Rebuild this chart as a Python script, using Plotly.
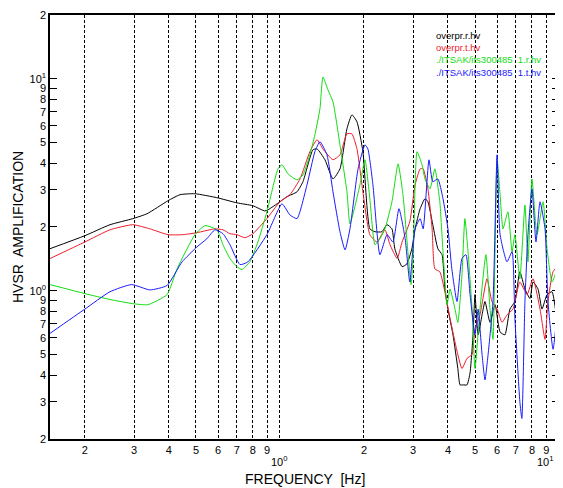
import math
import plotly.graph_objects as go

# ---- data (frequency in Hz, HVSR amplitude) ----
black_f = [0.150, 0.200, 0.246, 0.297, 0.334, 0.397, 0.438, 0.496, 0.594, 0.701, 0.800, 0.883, 0.906,
           1.0, 1.059, 1.151, 1.209, 1.313, 1.358, 1.45, 1.549, 1.641, 1.738, 1.811, 1.888, 1.983,
           2.10, 2.19, 2.32, 2.42, 2.52, 2.58, 2.74, 2.85, 2.97, 3.05, 3.18, 3.31, 3.39, 3.53, 3.68,
           3.81, 3.90, 4.0, 4.17, 4.34, 4.42, 4.53, 4.68, 4.80, 4.92, 5.0, 5.13, 5.30, 5.43, 5.66,
           5.90, 6.15, 6.40, 6.67, 6.95, 7.24, 7.55, 7.87, 8.07, 8.41, 8.69, 9.06, 9.44, 9.84, 10.0]
black_v = [1.58, 1.82, 2.05, 2.19, 2.31, 2.66, 2.84, 2.87, 2.75, 2.60, 2.52, 2.38, 2.41,
           2.63, 2.78, 2.93, 3.27, 4.63, 4.67, 4.15, 3.37, 3.76, 5.81, 6.76, 6.27, 4.53,
           1.96, 1.90, 1.90, 2.05, 1.96, 1.58, 1.30, 1.34, 1.58, 1.96, 2.44, 2.72, 2.63, 2.05, 1.58,
           1.48, 1.02, 0.82, 0.62, 0.43, 0.36, 0.36, 0.36, 0.41, 0.62, 0.96, 0.62, 0.77, 0.89, 0.71,
           0.86, 0.64, 0.62, 0.82, 0.89, 1.23, 1.02, 0.92, 1.10, 1.02, 0.82, 0.96, 0.99, 0.74, 1.02]

red_f = [0.150, 0.200, 0.246, 0.297, 0.342, 0.397, 0.449, 0.504, 0.585, 0.625, 0.662, 0.701, 0.749,
         0.800, 0.898, 1.0, 1.086, 1.18, 1.28, 1.358, 1.426, 1.549, 1.641, 1.738, 1.811, 1.888,
         1.983, 2.10, 2.228, 2.378, 2.48, 2.63, 2.74, 2.92, 3.05, 3.18, 3.26, 3.39, 3.51, 3.59,
         3.74, 3.90, 4.07, 4.31, 4.49, 4.68, 4.88, 5.0, 5.21, 5.52, 5.75, 6.0, 6.25, 6.51, 6.84,
         7.24, 7.68, 8.07, 8.55, 8.91, 9.13, 9.52, 10.0]
red_v = [1.42, 1.70, 1.94, 2.05, 1.96, 1.84, 1.84, 1.88, 1.96, 1.94, 1.86, 1.84, 1.78,
         1.86, 2.19, 2.63, 2.84, 3.37, 4.53, 5.16, 4.67, 4.15, 4.38, 5.50, 5.50, 4.67,
         2.93, 1.84, 1.70, 1.94, 1.65, 1.42, 1.70, 2.12, 3.16, 3.76, 3.76, 3.03, 1.96, 1.27,
         1.23, 0.99, 0.74, 0.52, 0.43, 0.48, 0.50, 0.66, 0.77, 1.14, 0.89, 0.82, 0.71, 0.77, 0.82,
         1.10, 0.96, 1.14, 0.82, 0.59, 0.89, 1.23, 1.33]

green_f = [0.150, 0.200, 0.246, 0.297, 0.336, 0.394, 0.428, 0.496, 0.539, 0.594, 0.625, 0.662, 0.701,
           0.731, 0.780, 0.834, 0.898, 0.984, 1.017, 1.069, 1.151, 1.209, 1.28, 1.334, 1.391, 1.426,
           1.486, 1.549, 1.641, 1.738, 1.782, 1.935, 2.017, 2.10, 2.19, 2.282, 2.378, 2.52, 2.65,
           2.76, 2.88, 2.95, 3.0, 3.10, 3.23, 3.31, 3.45, 3.59, 3.74, 3.84, 3.97, 4.07, 4.24, 4.34,
           4.49, 4.60, 4.72, 4.88, 5.0, 5.21, 5.47, 5.66, 5.80, 6.0, 6.15, 6.30, 6.56, 6.79, 6.95,
           7.24, 7.55, 7.74, 8.0, 8.34, 8.77, 9.06, 9.44, 9.84, 10.0]
green_v = [1.07, 0.97, 0.91, 0.87, 0.86, 0.96, 1.27, 1.84, 2.03, 1.94, 1.65, 1.42, 1.30,
           1.26, 1.37, 1.70, 2.36, 3.76, 3.93, 3.56, 3.34, 3.52, 4.38, 5.44, 7.22, 10.2,
           8.87, 7.79, 4.88, 2.93, 2.07, 3.16, 4.15, 2.72, 1.65, 1.76, 1.96, 2.63, 3.97,
           2.84, 1.48, 1.07, 1.42, 4.53, 3.93, 3.37, 3.03, 3.76, 2.63, 1.53, 0.86, 1.02, 0.82, 0.71,
           1.19, 2.19, 1.53, 0.82, 0.43, 0.82, 1.48, 0.82, 0.59, 4.20, 2.84, 1.96, 2.36, 1.53, 1.84,
           1.14, 2.54, 1.37, 3.37, 1.84, 2.63, 1.58, 1.10, 1.27, 1.53]

blue_f = [0.150, 0.200, 0.246, 0.294, 0.342, 0.394, 0.446, 0.504, 0.547, 0.585, 0.625, 0.662, 0.719,
          0.768, 0.898, 1.017, 1.086, 1.151, 1.25, 1.334, 1.391, 1.474, 1.549, 1.641, 1.711, 1.782,
          1.905, 2.017, 2.066, 2.154, 2.282, 2.42, 2.54, 2.67, 2.81, 2.92, 3.05, 3.18, 3.26, 3.42,
          3.53, 3.68, 3.84, 4.0, 4.13, 4.31, 4.49, 4.64, 4.80, 5.0, 5.13, 5.30, 5.43, 5.57, 5.80,
          6.0, 6.15, 6.51, 6.79, 6.95, 7.24, 7.36, 7.55, 7.74, 8.0, 8.27, 8.55, 8.91, 9.13, 9.52,
          9.84, 10.0]
blue_v = [0.63, 0.82, 0.99, 1.07, 1.01, 1.06, 1.37, 1.61, 1.76, 1.94, 1.86, 1.65, 1.33,
          1.37, 1.84, 2.57, 2.28, 2.19, 3.16, 4.53, 5.05, 4.38, 2.93, 1.90, 1.56, 1.96,
          3.76, 4.88, 4.67, 3.16, 1.48, 1.84, 1.70, 2.44, 1.76, 1.10, 1.96, 2.19, 1.96, 4.15,
          3.27, 3.37, 2.72, 1.96, 1.27, 0.89, 1.42, 1.48, 0.96, 0.62, 0.82, 0.50, 0.38, 0.50, 0.89,
          4.38, 1.84, 1.37, 1.53, 0.74, 0.30, 0.25, 0.89, 1.84, 3.03, 1.70, 2.63, 1.96, 0.89, 0.53,
          0.77, 1.07]

series_names = ["overpr.r.hv", "overpr.t.hv",
                "./ITSAK/its300485  1.r.hv", "./ITSAK/its300485  1.t.hv"]
series_colors = ["#000000", "#ee1c2c", "#10dd10", "#1a1aff"]

x_tick_vals = [0.2, 0.3, 0.4, 0.5, 0.6, 0.7, 0.8, 0.9, 1, 2, 3, 4, 5, 6, 7, 8, 9, 10]
x_tick_text = ["2", "3", "4", "5", "6", "7", "8", "9", "",
               "2", "3", "4", "5", "6", "7", "8", "9", ""]
x_decade_vals = [1, 10]
x_decade_text = ["10<sup>0</sup>", "10<sup>1</sup>"]
y_tick_vals = [0.2, 0.3, 0.4, 0.5, 0.6, 0.7, 0.8, 0.9, 1, 2, 3, 4, 5, 6, 7, 8, 9, 10, 20]
y_tick_text = ["2", "3", "4", "5", "6", "7", "8", "9", "10<sup>0</sup>",
               "2", "3", "4", "5", "6", "7", "8", "9", "10<sup>1</sup>", "2"]

FONT = "Liberation Sans Narrow, Arial Narrow, Liberation Sans, Arial, sans-serif"

fig = go.Figure()
for f, v, name, col in zip([black_f, red_f, green_f, blue_f],
                           [black_v, red_v, green_v, blue_v],
                           series_names, series_colors):
    fig.add_trace(go.Scatter(x=f, y=v, mode="lines", name=name,
                             line=dict(color=col, width=1, shape="spline", smoothing=0.5)))

# legend as coloured text
for i, (name, col) in enumerate(zip(series_names, series_colors)):
    fig.add_annotation(text=name, xref="x domain", yref="y domain",
                       x=0.755, y=0.952 - i * 0.029, xanchor="left", yanchor="middle",
                       showarrow=False, font=dict(family=FONT, size=9.5, color=col))

# decade labels below the x axis (offset like the reference); log axis -> log10 position
for j, (xv, xt) in enumerate(zip(x_decade_vals, x_decade_text)):
    fig.add_annotation(text=xt, x=math.log10(xv), xref="x", y=0, yref="y domain",
                       xanchor="center" if j == 0 else "right", xshift=0 if j == 0 else -3,
                       yanchor="top", yshift=-13,
                       showarrow=False, font=dict(family=FONT, size=11, color="black"))

# axis titles
fig.add_annotation(text="FREQUENCY  [Hz]", xref="x domain", yref="y domain",
                   x=0.5, y=0, yshift=-30, xanchor="center", yanchor="top",
                   showarrow=False, font=dict(family=FONT, size=14, color="black"))
fig.add_annotation(text="HVSR  AMPLIFICATION", xref="paper", yref="y domain",
                   x=0, xshift=-32, y=0.5, xanchor="center", yanchor="middle", textangle=-90,
                   showarrow=False, font=dict(family=FONT, size=14, color="black"))

# the page body adds an 8px offset, so the figure is 8px smaller and margins compensate
fig.update_layout(
    width=555, height=480,
    margin=dict(l=42, r=4, t=7, b=49),
    paper_bgcolor="white", plot_bgcolor="white",
    showlegend=False,
    font=dict(family=FONT, size=11, color="black"),
    xaxis=dict(type="log", range=[-0.824, 1.0], automargin=False,
               tickvals=x_tick_vals, ticktext=x_tick_text, ticks="",
               showgrid=True, gridcolor="black", gridwidth=1, griddash="3px,2px",
               showline=True, linecolor="black", linewidth=1.5, mirror=True,
               zeroline=False, tickfont=dict(size=11)),
    yaxis=dict(type="log", range=[-0.699, 1.301], automargin=False,
               tickvals=y_tick_vals, ticktext=y_tick_text,
               ticks="inside", ticklen=7, tickcolor="black", mirror="ticks",
               showgrid=False, showline=True, linecolor="black", linewidth=1.5,
               zeroline=False, tickfont=dict(size=11)),
)

fig.write_html("out.html")
